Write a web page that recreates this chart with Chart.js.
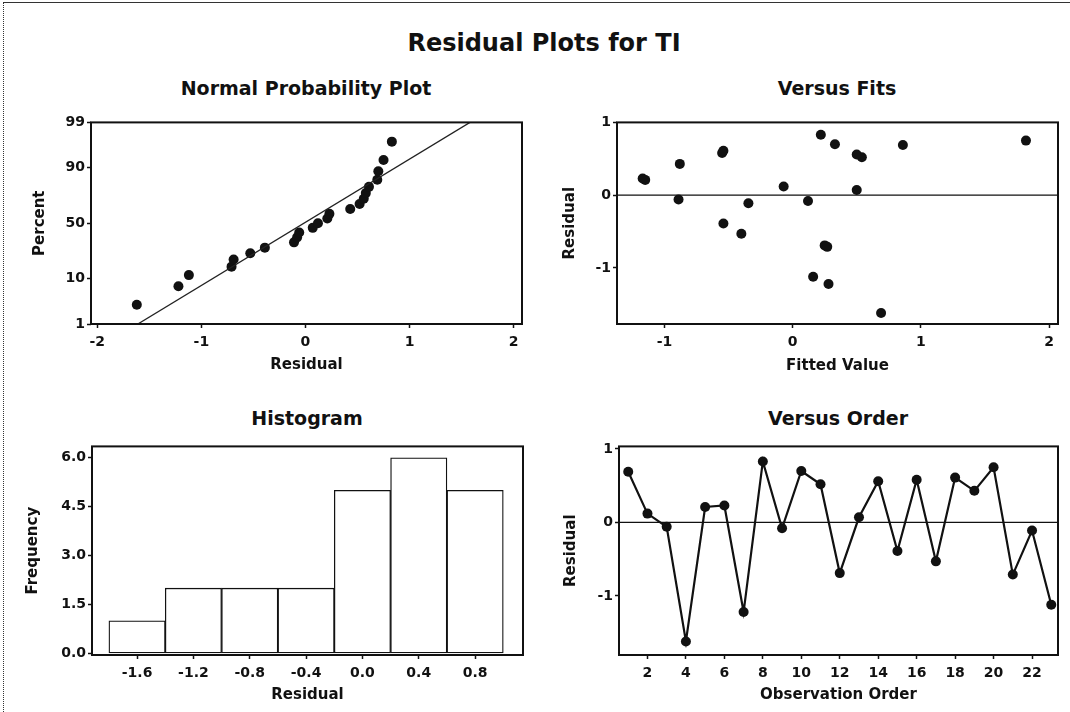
<!DOCTYPE html>
<html lang="en">
<head>
<meta charset="UTF-8">
<title>Residual Plots for TI</title>
<script src="https://cdn.jsdelivr.net/npm/chart.js"></script>
<style>
  body { margin: 0; background: #fff; }
  #page { position: relative; width: 1070px; height: 712px; overflow: hidden; font-family: "DejaVu Sans", sans-serif; color: #111; }
  #page canvas { position: absolute; }
  .ttl { position: absolute; font-weight: bold; white-space: nowrap; transform: translate(-50%, -50%); }
  #pageEdge { position: absolute; left: 3px; top: 2px; right: -4px; bottom: -4px; border-top: 1px solid #333; border-left: 1px dotted #333; }
</style>
</head>
<body>
<div id="page">
  <div id="pageEdge"></div>
  <div class="ttl" style="left:544px; top:43px; font-size:24px;">Residual Plots for TI</div>
  <div class="ttl" style="left:306px; top:88px; font-size:19px;">Normal Probability Plot</div>
  <div class="ttl" style="left:837px; top:88px; font-size:19px;">Versus Fits</div>
  <div class="ttl" style="left:307px; top:418px; font-size:19px;">Histogram</div>
  <div class="ttl" style="left:838px; top:418px; font-size:19px;">Versus Order</div>
  <canvas id="normChart"></canvas>
  <canvas id="fitsChart"></canvas>
  <canvas id="histChart"></canvas>
  <canvas id="orderChart"></canvas>
</div>
<script>
// residuals in observation order, and the fitted value of each observation
const obsOrder = [1, 2, 3, 4, 5, 6, 7, 8, 9, 10, 11, 12, 13, 14, 15, 16, 17, 18, 19, 20, 21, 22, 23];
const residuals = [0.69, 0.12, -0.06, -1.62, 0.21, 0.23, -1.22, 0.83, -0.08, 0.70, 0.52, -0.69,
                   0.07, 0.56, -0.39, 0.58, -0.53, 0.61, 0.43, 0.75, -0.71, -0.11, -1.12];
const fitted = [0.86, -0.07, -0.89, 0.69, -1.15, -1.17, 0.28, 0.22, 0.12, 0.33, 0.54, 0.25,
                0.50, 0.50, -0.54, -0.55, -0.40, -0.54, -0.88, 1.82, 0.27, -0.345, 0.16];

// normal probability plot: percent of each ranked residual, and the fitted line ends
const normPct = [2.99, 7.26, 11.54, 15.81, 20.09, 24.36, 28.63, 32.91, 37.18, 41.45, 45.73, 50.00,
                 54.27, 58.55, 62.82, 67.09, 71.37, 75.64, 79.91, 84.19, 88.46, 92.74, 97.01];
const lineResid = [-1.61, 1.58];
const linePct = [1, 99];

// histogram
const histBins = [-1.6, -1.2, -0.8, -0.4, 0.0, 0.4, 0.8];
const histCounts = [1, 2, 2, 2, 5, 6, 5];

// tick labels
const normXTicks = [-2, -1, 0, 1, 2];
const normPctTicks = [1, 10, 50, 90, 99];
const fitsXTicks = [-1, 0, 1, 2];
const residTicks = [-1, 0, 1];
const histYTicks = [0, 1.5, 3, 4.5, 6];
const orderTicks = [2, 4, 6, 8, 10, 12, 14, 16, 18, 20, 22];

const FONT = '"DejaVu Sans", sans-serif';
const INK = '#111';
const PAD = {top: 10, right: 10, bottom: 4, left: 4};
const Y_W = 75, X_H = 52;

// inverse normal cdf (Acklam) for the probability axis
function probit(p) {
    const a = [-39.69683028665376, 220.9460984245205, -275.9285104469687, 138.3577518672690, -30.66479806614716, 2.506628277459239];
    const b = [-54.47609879822406, 161.5858368580409, -155.6989798598866, 66.80131188771972, -13.28068155288572];
    const c = [-0.007784894002430293, -0.3223964580411365, -2.400758277161838, -2.549732539343734, 4.374664141464968, 2.938163982698783];
    const d = [0.007784695709041462, 0.3224671290700398, 2.445134137142996, 3.754408661907416];
    const pl = 0.02425;
    let q, r;
    if (p < pl) {
        q = Math.sqrt(-2 * Math.log(p));
        return (((((c[0]*q+c[1])*q+c[2])*q+c[3])*q+c[4])*q+c[5]) / ((((d[0]*q+d[1])*q+d[2])*q+d[3])*q+1);
    }
    if (p > 1 - pl) {
        q = Math.sqrt(-2 * Math.log(1 - p));
        return -(((((c[0]*q+c[1])*q+c[2])*q+c[3])*q+c[4])*q+c[5]) / ((((d[0]*q+d[1])*q+d[2])*q+d[3])*q+1);
    }
    q = p - 0.5; r = q * q;
    return (((((a[0]*r+a[1])*r+a[2])*r+a[3])*r+a[4])*r+a[5])*q / (((((b[0]*r+b[1])*r+b[2])*r+b[3])*r+b[4])*r+1);
}

// box around the plot area + optional reference line at 0
Chart.register({
    id: 'frame',
    beforeDatasetsDraw(chart, args, opts) {
        if (!opts.zeroLine) return;
        const {ctx, chartArea: a} = chart;
        const py = chart.scales.y.getPixelForValue(0);
        ctx.save();
        ctx.strokeStyle = INK; ctx.lineWidth = 1.3;
        ctx.beginPath(); ctx.moveTo(a.left, py); ctx.lineTo(a.right, py); ctx.stroke();
        ctx.restore();
    },
    afterDraw(chart) {
        const {ctx, chartArea: a} = chart;
        ctx.save();
        ctx.strokeStyle = INK; ctx.lineWidth = 2;
        ctx.strokeRect(a.left, a.top, a.right - a.left, a.bottom - a.top);
        ctx.restore();
    }
});

function place(id, box) {
    const c = document.getElementById(id);
    c.width = box.r - box.l + Y_W + PAD.left + PAD.right;
    c.height = box.b - box.t + PAD.top + X_H + PAD.bottom;
    c.style.left = (box.l - Y_W - PAD.left) + 'px';
    c.style.top = (box.t - PAD.top) + 'px';
    return c.getContext('2d');
}

function axis(min, max, ticks, title, titlePad, fmt, isY) {
    return {
        type: 'linear', min: min, max: max, offset: false,
        afterBuildTicks: s => { s.ticks = ticks.map(v => ({value: v})); },
        afterFit: s => { if (isY) s.width = Y_W; else s.height = X_H; },
        grid: { display: true, drawOnChartArea: false, offset: false, tickLength: 4, tickWidth: 1.5, tickColor: INK },
        border: { display: false },
        ticks: { color: INK, autoSkip: false, maxRotation: 0, padding: isY ? 2 : 6,
                 font: { family: FONT, size: 14, weight: 'bold' }, callback: fmt },
        title: { display: true, text: title, color: INK, font: { family: FONT, size: 15, weight: 'bold' },
                 padding: isY ? {top: titlePad, bottom: 0} : {top: 0, bottom: titlePad} }
    };
}

function options(x, y, frame) {
    return {
        responsive: false, animation: false, devicePixelRatio: 1,
        layout: { padding: PAD },
        plugins: { legend: { display: false }, tooltip: { enabled: false }, frame: frame || {} },
        scales: { x: x, y: y }
    };
}

const dot = { pointRadius: 5, pointBackgroundColor: INK, pointBorderColor: INK, pointBorderWidth: 0 };

// Normal Probability Plot
const sortedResid = residuals.slice().sort((a, b) => a - b);
new Chart(place('normChart', {l: 91, r: 522, t: 122, b: 324}), {
    type: 'scatter',
    data: { datasets: [
        { data: lineResid.map((x, i) => ({x: x, y: probit(linePct[i] / 100)})),
          showLine: true, pointRadius: 0, borderColor: '#222', borderWidth: 1.3 },
        Object.assign({ data: sortedResid.map((x, i) => ({x: x, y: probit(normPct[i] / 100)})) }, dot)
    ]},
    options: options(
        axis(-2.06, 2.08, normXTicks, 'Residual', 1.5, v => String(v)),
        axis(probit(0.01), probit(0.99), normPctTicks.map(p => probit(p / 100)), 'Percent', 15, (v, i) => String(normPctTicks[i]), true)
    )
});

// Versus Fits
new Chart(place('fitsChart', {l: 617, r: 1058, t: 122, b: 324}), {
    type: 'scatter',
    data: { datasets: [
        Object.assign({ data: fitted.map((x, i) => ({x: x, y: residuals[i]})) }, dot)
    ]},
    options: options(
        axis(-1.37, 2.07, fitsXTicks, 'Fitted Value', 1, v => String(v)),
        axis(-1.77, 1.0, residTicks, 'Residual', 19, v => String(v), true),
        { zeroLine: true }
    )
});

// Histogram
new Chart(place('histChart', {l: 92, r: 523, t: 446, b: 655}), {
    type: 'bar',
    data: { datasets: [{
        data: histBins.map((x, i) => ({x: x, y: histCounts[i]})),
        backgroundColor: '#fff', borderColor: INK, borderWidth: 1.3, borderSkipped: false,
        barPercentage: 1, categoryPercentage: 1
    }]},
    options: options(
        axis(-1.92, 1.14, histBins, 'Residual', 3, v => v.toFixed(1)),
        axis(-0.05, 6.35, histYTicks, 'Frequency', 7, v => v.toFixed(1), true)
    )
});

// Versus Order
new Chart(place('orderChart', {l: 619, r: 1058, t: 446, b: 655}), {
    type: 'scatter',
    data: { datasets: [
        Object.assign({ data: obsOrder.map((x, i) => ({x: x, y: residuals[i]})),
                        showLine: true, borderColor: INK, borderWidth: 2.2 }, dot)
    ]},
    options: options(
        axis(0.52, 23.35, orderTicks, 'Observation Order', 2.5, v => String(v)),
        axis(-1.805, 1.035, residTicks, 'Residual', 18, v => String(v), true),
        { zeroLine: true }
    )
});
</script>
</body>
</html>
